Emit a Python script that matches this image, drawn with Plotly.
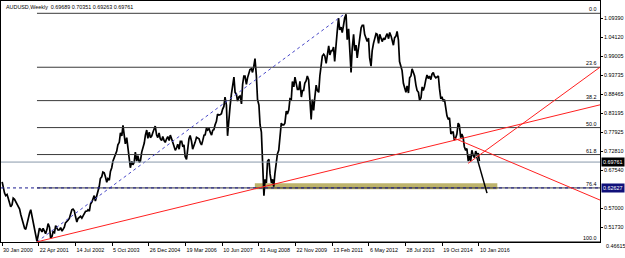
import pandas as pd
import plotly.graph_objects as go

# ---------------- data ----------------
# semi-monthly samples (1st and 15th of each month), Feb 2000 .. Jan 2016
p2000 = [0.643, 0.625, 0.612, 0.605, 0.608, 0.598, 0.585, 0.574, 0.580, 0.598, 0.595,
         0.588, 0.583, 0.575, 0.568, 0.553, 0.540, 0.524, 0.515, 0.512, 0.528, 0.548]
p2001 = [0.557, 0.566, 0.545, 0.530, 0.515, 0.500, 0.479, 0.495, 0.515, 0.512, 0.505, 0.515,
         0.505, 0.500, 0.512, 0.528, 0.518, 0.488, 0.492, 0.506, 0.503, 0.522, 0.515, 0.510]
p2002 = [0.511, 0.517, 0.507, 0.513, 0.518, 0.530, 0.533, 0.537, 0.542, 0.552, 0.566, 0.568,
         0.563, 0.548, 0.532, 0.542, 0.545, 0.548, 0.543, 0.550, 0.556, 0.562, 0.562, 0.566]
p2003 = [0.562, 0.582, 0.588, 0.597, 0.605, 0.590, 0.606, 0.618, 0.630, 0.652, 0.657, 0.670,
         0.668, 0.658, 0.642, 0.652, 0.648, 0.672, 0.682, 0.700, 0.710, 0.716, 0.728, 0.745]
p2004 = [0.752, 0.778, 0.770, 0.799, 0.768, 0.748, 0.765, 0.742, 0.716, 0.682, 0.700, 0.690,
         0.697, 0.725, 0.700, 0.715, 0.697, 0.700, 0.725, 0.738, 0.750, 0.772, 0.786, 0.763]
p2005 = [0.780, 0.765, 0.770, 0.780, 0.792, 0.797, 0.772, 0.765, 0.778, 0.762, 0.757, 0.768,
         0.757, 0.752, 0.762, 0.768, 0.757, 0.772, 0.762, 0.752, 0.745, 0.730, 0.737, 0.747]
p2006 = [0.733, 0.755, 0.755, 0.740, 0.745, 0.713, 0.705, 0.738, 0.762, 0.771, 0.755, 0.733,
         0.742, 0.752, 0.766, 0.763, 0.762, 0.752, 0.745, 0.756, 0.772, 0.773, 0.792, 0.786]
p2007 = [0.790, 0.780, 0.772, 0.785, 0.787, 0.800, 0.810, 0.830, 0.827, 0.828, 0.831, 0.843,
         0.851, 0.877, 0.855, 0.770, 0.822, 0.852, 0.885, 0.902, 0.932, 0.890, 0.885, 0.866]
p2008 = [0.878, 0.880, 0.858, 0.912, 0.935, 0.935, 0.912, 0.930, 0.940, 0.953, 0.955, 0.945,
         0.962, 0.983, 0.935, 0.870, 0.855, 0.800, 0.780, 0.680, 0.605, 0.650, 0.640, 0.700]
p2009 = [0.705, 0.665, 0.640, 0.650, 0.630, 0.665, 0.695, 0.720, 0.730, 0.762, 0.805, 0.800,
         0.800, 0.805, 0.838, 0.830, 0.842, 0.872, 0.870, 0.920, 0.905, 0.932, 0.918, 0.898]
p2010 = [0.898, 0.920, 0.877, 0.895, 0.895, 0.915, 0.922, 0.935, 0.925, 0.870, 0.815, 0.870,
         0.840, 0.875, 0.910, 0.895, 0.890, 0.935, 0.968, 0.990, 0.995, 0.990, 0.970, 0.990]
p2011 = [1.018, 0.993, 1.005, 1.005, 1.015, 0.975, 1.035, 1.058, 1.095, 1.062, 1.070, 1.055,
         1.075, 1.095, 1.105, 1.035, 1.065, 1.020, 0.945, 1.010, 1.050, 1.005, 1.020, 0.985]
p2012 = [1.020, 1.038, 1.068, 1.075, 1.075, 1.050, 1.035, 1.030, 1.040, 0.985, 0.962, 1.005,
         1.025, 1.035, 1.052, 1.050, 1.025, 1.050, 1.037, 1.030, 1.040, 1.035, 1.045, 1.052]
p2013 = [1.038, 1.055, 1.045, 1.032, 1.020, 1.040, 1.045, 1.058, 1.035, 0.975, 0.960, 0.950,
         0.915, 0.905, 0.890, 0.908, 0.888, 0.930, 0.935, 0.955, 0.945, 0.935, 0.910, 0.895]
p2014 = [0.890, 0.868, 0.875, 0.905, 0.895, 0.905, 0.925, 0.938, 0.928, 0.935, 0.925, 0.940,
         0.945, 0.935, 0.930, 0.932, 0.935, 0.900, 0.872, 0.878, 0.865, 0.870, 0.845, 0.825]
p2015 = [0.815, 0.820, 0.775, 0.780, 0.780, 0.758, 0.765, 0.775, 0.805, 0.800, 0.765, 0.775,
         0.765, 0.740, 0.730, 0.735, 0.700, 0.715, 0.700, 0.730, 0.715, 0.710, 0.728, 0.718]
p2016 = [0.722, 0.700]

price_values = (p2000 + p2001 + p2002 + p2003 + p2004 + p2005 + p2006 + p2007 + p2008 +
                p2009 + p2010 + p2011 + p2012 + p2013 + p2014 + p2015 + p2016)
price_dates = pd.date_range("2000-02-01", "2016-01-15", freq="SMS")
assert len(price_dates) == len(price_values)

title_text = "AUDUSD,Weekly  0.69689 0.70351 0.69263 0.69761"

date_tick_labels = ["30 Jan 2000", "22 Apr 2001", "14 Jul 2002", "5 Oct 2003", "26 Dec 2004",
                    "19 Mar 2006", "10 Jun 2007", "31 Aug 2008", "22 Nov 2009", "13 Feb 2011",
                    "6 May 2012", "28 Jul 2013", "19 Oct 2014", "10 Jan 2016"]
price_tick_labels = ["1.09390", "1.04120", "0.99005", "0.93735", "0.88465", "0.83195",
                     "0.77925", "0.72810", "0.67540", "0.57000", "0.51730"]
bottom_price_label = "0.46615"

bid_price = 0.69761
level_line_price = 0.62627

fib_low = ("2001-04-01", 0.4775)
fib_high = ("2011-07-24", 1.1080)
fib_levels = [0.0, 23.6, 38.2, 50.0, 61.8, 76.4, 100.0]

zone_dates = ["2008-07-13", "2016-08-21"]
zone_prices = [0.6225, 0.6390]

red_ray_1 = [("2001-04-01", 0.4775), ("2014-01-26", 0.735)]
red_ray_2 = [("2015-03-08", 0.764), ("2018-01-14", 0.664)]
red_ray_3 = [("2015-08-30", 0.694), ("2018-01-14", 0.837)]
black_segment = [("2015-12-13", 0.712), ("2016-04-17", 0.612)]

# ---------------- layout geometry ----------------
W, H = 625, 258
plot_left_px, plot_right_px = 1, 600
plot_top_px, plot_bottom_px = 1, 242
origin_date, origin_px, px_per_week = pd.Timestamp("2000-01-30"), 2.0, 0.5733
ref_price, ref_px, px_per_unit = 1.108, 13.3, 362.5

x_start = origin_date + pd.Timedelta(weeks=(plot_left_px - origin_px) / px_per_week)
x_end = origin_date + pd.Timedelta(weeks=(plot_right_px - origin_px) / px_per_week)
y_top = ref_price + (ref_px - plot_top_px) / px_per_unit
y_bottom = ref_price - (plot_bottom_px - ref_px) / px_per_unit

FONT = "Liberation Sans, Arial, sans-serif"
FS = 5.4


def ray(a, b, end=x_end):
    ta, tb, te = (pd.Timestamp(a[0]).value, pd.Timestamp(b[0]).value, pd.Timestamp(end).value)
    slope = (b[1] - a[1]) / (tb - ta)
    return a[0], a[1], end, a[1] + slope * (te - ta)


fig = go.Figure()
fig.add_trace(go.Scatter(x=price_dates, y=price_values, mode="lines",
                         line=dict(color="black", width=1.7), hoverinfo="skip",
                         showlegend=False))

shapes = []
shapes.append(dict(type="rect", xref="x", yref="y", x0=zone_dates[0], x1=zone_dates[1],
                   y0=zone_prices[0], y1=zone_prices[1], fillcolor="#BDB36B",
                   line=dict(width=0), layer="below"))
fib_range = fib_high[1] - fib_low[1]
for lv in fib_levels:
    p = fib_high[1] - lv / 100.0 * fib_range
    shapes.append(dict(type="line", xref="x", yref="y", x0=fib_low[0], x1=x_end, y0=p, y1=p,
                       line=dict(color="#3a3a3a", width=1)))
shapes.append(dict(type="line", xref="x", yref="y", x0=fib_low[0], y0=fib_low[1],
                   x1=fib_high[0], y1=fib_high[1],
                   line=dict(color="#4848c8", width=1, dash="dot")))
shapes.append(dict(type="line", xref="x", yref="y", x0=x_start, x1=x_end, y0=bid_price,
                   y1=bid_price, line=dict(color="#8898AA", width=1)))
shapes.append(dict(type="line", xref="x", yref="y", x0=x_start, x1=x_end,
                   y0=level_line_price, y1=level_line_price,
                   line=dict(color="#1a1a90", width=1, dash="dot")))
for r in (red_ray_1, red_ray_2, red_ray_3):
    xa, ya, xb, yb = ray(r[0], r[1])
    shapes.append(dict(type="line", xref="x", yref="y", x0=xa, y0=ya, x1=xb, y1=yb,
                       line=dict(color="#FF2020", width=1)))
shapes.append(dict(type="line", xref="x", yref="y", x0=black_segment[0][0],
                   y0=black_segment[0][1], x1=black_segment[1][0], y1=black_segment[1][1],
                   line=dict(color="black", width=1.5)))

annotations = []
annotations.append(dict(xref="paper", yref="paper", x=0, y=1, xanchor="left", yanchor="top",
                        xshift=3, yshift=-1, text=title_text, showarrow=False,
                        font=dict(family=FONT, size=FS, color="black")))
for lv in fib_levels:
    p = fib_high[1] - lv / 100.0 * fib_range
    annotations.append(dict(xref="paper", yref="y", x=1, y=p, xanchor="right",
                            yanchor="bottom", xshift=-1, yshift=-1, text=f"{lv:.1f}",
                            showarrow=False,
                            font=dict(family=FONT, size=FS, color="black")))
annotations.append(dict(xref="paper", yref="y", x=1, y=bid_price, xanchor="left",
                        yanchor="middle", xshift=1, text=f"{bid_price:.5f}", showarrow=False,
                        bgcolor="black", borderpad=1,
                        font=dict(family=FONT, size=FS, color="white")))
annotations.append(dict(xref="paper", yref="y", x=1, y=level_line_price, xanchor="left",
                        yanchor="middle", xshift=1, text=f"{level_line_price:.5f}",
                        showarrow=False, bgcolor="#10107a", borderpad=1,
                        font=dict(family=FONT, size=FS, color="white")))
annotations.append(dict(xref="paper", yref="paper", x=1, y=0, xanchor="left",
                        yanchor="middle", xshift=4, yshift=-3.5, text=bottom_price_label,
                        showarrow=False, font=dict(family=FONT, size=FS, color="black")))

date_ticks = pd.to_datetime(date_tick_labels, format="%d %b %Y")
price_ticks = [float(s) for s in price_tick_labels]

fig.update_layout(
    width=W, height=H,
    margin=dict(l=plot_left_px, r=W - plot_right_px, t=plot_top_px, b=H - plot_bottom_px,
                autoexpand=False),
    paper_bgcolor="white", plot_bgcolor="white",
    showlegend=False, shapes=shapes, annotations=annotations,
    xaxis=dict(range=[x_start, x_end], showgrid=False, zeroline=False, automargin=False,
               tickvals=date_ticks, ticktext=date_tick_labels, tickangle=0,
               ticks="outside", ticklen=3, tickcolor="black", tickwidth=1,
               ticklabelposition="outside right", ticklabelstandoff=3,
               tickfont=dict(family=FONT, size=FS, color="black"),
               showline=True, linecolor="black", linewidth=1, mirror=True),
    yaxis=dict(range=[y_bottom, y_top], side="right", showgrid=False, zeroline=False,
               automargin=False,
               tickvals=price_ticks, ticktext=price_tick_labels,
               ticks="outside", ticklen=2, tickcolor="black", tickwidth=1,
               tickfont=dict(family=FONT, size=FS, color="black"),
               showline=True, linecolor="black", linewidth=1, mirror=True),
)

fig.write_html("out.html", config={"displayModeBar": False})
